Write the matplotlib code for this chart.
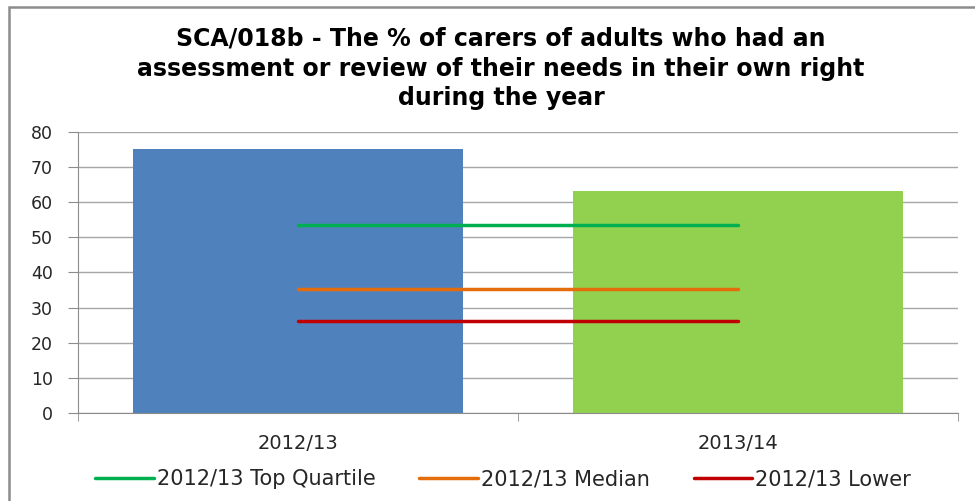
import matplotlib
matplotlib.use("Agg")
import matplotlib.pyplot as plt
from matplotlib.patches import Rectangle

# data
years = ["2012/13", "2013/14"]
values = [75.2, 63.3]
bar_colors = ["#4F81BD", "#92D050"]
top_quartile = [53.4, 53.4]
median = [35.4, 35.4]
lower = [26.2, 26.2]
title = ("SCA/018b - The % of carers of adults who had an\n"
         "assessment or review of their needs in their own right\n"
         "during the year")

plt.rcParams['font.family'] = ['DejaVu Sans']

fig = plt.figure(figsize=(9.75, 5.01), dpi=100)
ax = fig.add_axes([0.080, 0.1756, 0.9026, 0.561])

# outer chart border (right and bottom edges fall outside the picture)
fig.patches.append(Rectangle((0.009, -0.05), 1.1, 1.036, transform=fig.transFigure,
                             fill=False, edgecolor="#8c8c8c", lw=1.8))

x = list(range(len(years)))
ax.bar(x, values, width=0.75, color=bar_colors, zorder=2)
ax.plot(x, top_quartile, color="#00B050", lw=2.5, solid_capstyle="round", zorder=3,
        label="2012/13 Top Quartile")
ax.plot(x, median, color="#E46C0A", lw=2.5, solid_capstyle="round", zorder=3,
        label="2012/13 Median")
ax.plot(x, lower, color="#C00000", lw=2.5, solid_capstyle="round", zorder=3,
        label="2012/13 Lower")

ax.set_xlim(-0.5, 1.5)
ax.set_ylim(0, 80)
ax.set_yticks(range(0, 81, 10))
ax.yaxis.grid(True, color="#a6a6a6", lw=1)
ax.set_axisbelow(True)

ax.set_xticks(x)
ax.set_xticklabels(years, fontsize=14, color="#262626")
ax.set_xticks([-0.5, 0.5, 1.5], minor=True)
ax.tick_params(axis="x", which="major", length=0, pad=15)
ax.tick_params(axis="x", which="minor", length=6, color="#8c8c8c")
ax.tick_params(axis="y", length=7, color="#8c8c8c", labelsize=12.5, pad=11,
               labelcolor="#262626")

for side in ["top", "right"]:
    ax.spines[side].set_visible(False)
for side in ["left", "bottom"]:
    ax.spines[side].set_color("#8c8c8c")

fig.text(0.514, 0.863, title, ha="center", va="center", fontsize=17,
         fontweight="bold", linespacing=1.3)

leg = fig.legend(loc="center", bbox_to_anchor=(0.516, 0.043), ncol=3, frameon=False,
                 fontsize=15, handlelength=2.8, handletextpad=0.15, columnspacing=2.1)
for t in leg.get_texts():
    t.set_color("#262626")

fig.savefig("out.png", dpi=100)
